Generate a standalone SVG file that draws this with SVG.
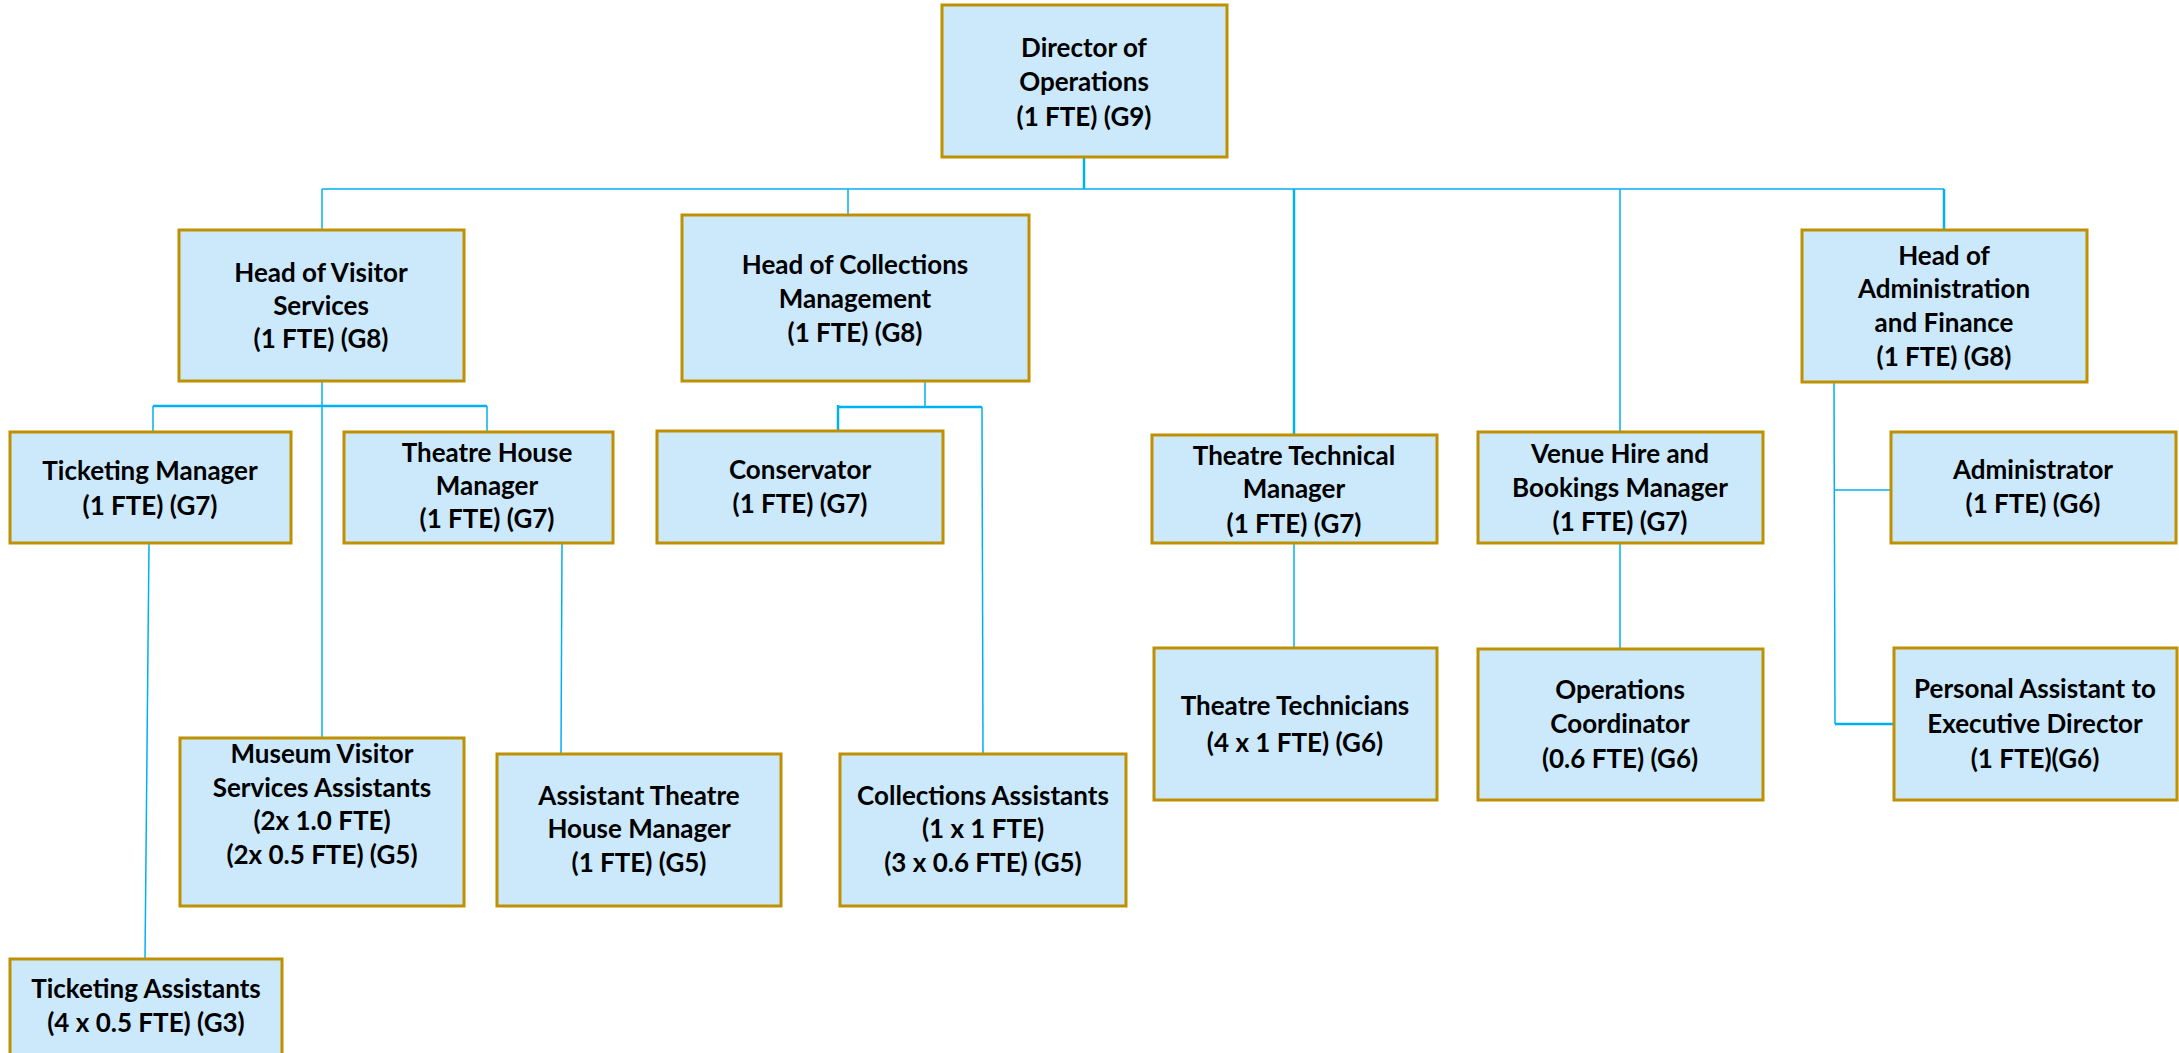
<svg xmlns="http://www.w3.org/2000/svg" width="2179" height="1053" viewBox="0 0 2179 1053">
<style>
.box{fill:#CCE9FC;stroke:#BF9000;stroke-width:3}
.t{font-family:Lato,"Liberation Sans",sans-serif;font-weight:bold;font-size:26px;fill:#000;text-anchor:middle}
.c{stroke:#00B0F0;stroke-width:1.5;fill:none}
.w{stroke-width:2.5}
</style>
<rect width="2179" height="1053" fill="#fff"/>
<g id="connectors">
<line class="c w" x1="1084" y1="157" x2="1084" y2="189"/>
<line class="c" x1="322" y1="189" x2="1944" y2="189"/>
<line class="c" x1="322" y1="189" x2="322" y2="230"/>
<line class="c" x1="848" y1="189" x2="848" y2="215"/>
<line class="c w" x1="1294" y1="189" x2="1294" y2="435"/>
<line class="c" x1="1620" y1="189" x2="1620" y2="432"/>
<line class="c w" x1="1944" y1="189" x2="1944" y2="230"/>
<line class="c" x1="322" y1="381" x2="322" y2="738"/>
<line class="c w" x1="153" y1="406" x2="487" y2="406"/>
<line class="c" x1="153" y1="406" x2="153" y2="432"/>
<line class="c" x1="487" y1="406" x2="487" y2="432"/>
<line class="c" x1="149" y1="543" x2="145" y2="959"/>
<line class="c" x1="562" y1="543" x2="561" y2="754"/>
<line class="c" x1="925" y1="381" x2="925" y2="407"/>
<line class="c w" x1="838" y1="407" x2="982" y2="407"/>
<line class="c w" x1="838" y1="405" x2="838" y2="431"/>
<line class="c" x1="982" y1="407" x2="983" y2="754"/>
<line class="c" x1="1294" y1="543" x2="1294" y2="648"/>
<line class="c" x1="1620" y1="543" x2="1620" y2="649"/>
<line class="c" x1="1834" y1="382" x2="1835" y2="724"/>
<line class="c" x1="1835" y1="490" x2="1891" y2="490"/>
<line class="c w" x1="1835" y1="724" x2="1894" y2="724"/>
</g>
<g id="director"><rect class="box" x="942" y="5" width="285" height="152"/>
<text class="t" x="1084" y="57">Director of</text><text class="t" x="1084" y="91">Operations</text><text class="t" x="1084" y="126">(1 FTE) (G9)</text></g>
<g id="head-visitor"><rect class="box" x="179" y="230" width="285" height="151"/>
<text class="t" x="321" y="282">Head of Visitor</text><text class="t" x="321" y="315">Services</text><text class="t" x="321" y="348">(1 FTE) (G8)</text></g>
<g id="head-collections"><rect class="box" x="682" y="215" width="347" height="166"/>
<text class="t" x="855" y="274">Head of Collections</text><text class="t" x="855" y="308">Management</text><text class="t" x="855" y="342">(1 FTE) (G8)</text></g>
<g id="head-admin"><rect class="box" x="1802" y="230" width="285" height="152"/>
<text class="t" x="1944" y="265">Head of</text><text class="t" x="1944" y="298">Administration</text><text class="t" x="1944" y="332">and Finance</text><text class="t" x="1944" y="366">(1 FTE) (G8)</text></g>
<g id="ticketing-manager"><rect class="box" x="10" y="432" width="281" height="111"/>
<text class="t" x="150" y="480">Ticketing Manager</text><text class="t" x="150" y="515">(1 FTE) (G7)</text></g>
<g id="theatre-house-manager"><rect class="box" x="344" y="432" width="269" height="111"/>
<text class="t" x="487" y="462">Theatre House</text><text class="t" x="487" y="495">Manager</text><text class="t" x="487" y="528">(1 FTE) (G7)</text></g>
<g id="conservator"><rect class="box" x="657" y="431" width="286" height="112"/>
<text class="t" x="800" y="479">Conservator</text><text class="t" x="800" y="513">(1 FTE) (G7)</text></g>
<g id="theatre-technical-manager"><rect class="box" x="1152" y="435" width="285" height="108"/>
<text class="t" x="1294" y="465">Theatre Technical</text><text class="t" x="1294" y="498">Manager</text><text class="t" x="1294" y="533">(1 FTE) (G7)</text></g>
<g id="venue-hire-manager"><rect class="box" x="1478" y="432" width="285" height="111"/>
<text class="t" x="1620" y="463">Venue Hire and</text><text class="t" x="1620" y="497">Bookings Manager</text><text class="t" x="1620" y="531">(1 FTE) (G7)</text></g>
<g id="administrator"><rect class="box" x="1891" y="432" width="285" height="111"/>
<text class="t" x="2033" y="479">Administrator</text><text class="t" x="2033" y="513">(1 FTE) (G6)</text></g>
<g id="museum-visitor-assistants"><rect class="box" x="180" y="738" width="284" height="168"/>
<text class="t" x="322" y="763">Museum Visitor</text><text class="t" x="322" y="797">Services Assistants</text><text class="t" x="322" y="830">(2x 1.0 FTE)</text><text class="t" x="322" y="864">(2x 0.5 FTE) (G5)</text></g>
<g id="assistant-theatre-house-manager"><rect class="box" x="497" y="754" width="284" height="152"/>
<text class="t" x="639" y="805">Assistant Theatre</text><text class="t" x="639" y="838">House Manager</text><text class="t" x="639" y="872">(1 FTE) (G5)</text></g>
<g id="collections-assistants"><rect class="box" x="840" y="754" width="286" height="152"/>
<text class="t" x="983" y="805">Collections Assistants</text><text class="t" x="983" y="838">(1 x 1 FTE)</text><text class="t" x="983" y="872">(3 x 0.6 FTE) (G5)</text></g>
<g id="ticketing-assistants"><rect class="box" x="10" y="959" width="272" height="110"/>
<text class="t" x="146" y="998">Ticketing Assistants</text><text class="t" x="146" y="1032">(4 x 0.5 FTE) (G3)</text></g>
<g id="theatre-technicians"><rect class="box" x="1154" y="648" width="283" height="152"/>
<text class="t" x="1295" y="715">Theatre Technicians</text><text class="t" x="1295" y="752">(4 x 1 FTE) (G6)</text></g>
<g id="operations-coordinator"><rect class="box" x="1478" y="649" width="285" height="151"/>
<text class="t" x="1620" y="699">Operations</text><text class="t" x="1620" y="733">Coordinator</text><text class="t" x="1620" y="768">(0.6 FTE) (G6)</text></g>
<g id="personal-assistant"><rect class="box" x="1894" y="648" width="283" height="152"/>
<text class="t" x="2035" y="698">Personal Assistant to</text><text class="t" x="2035" y="733">Executive Director</text><text class="t" x="2035" y="768">(1 FTE)(G6)</text></g>
</svg>
